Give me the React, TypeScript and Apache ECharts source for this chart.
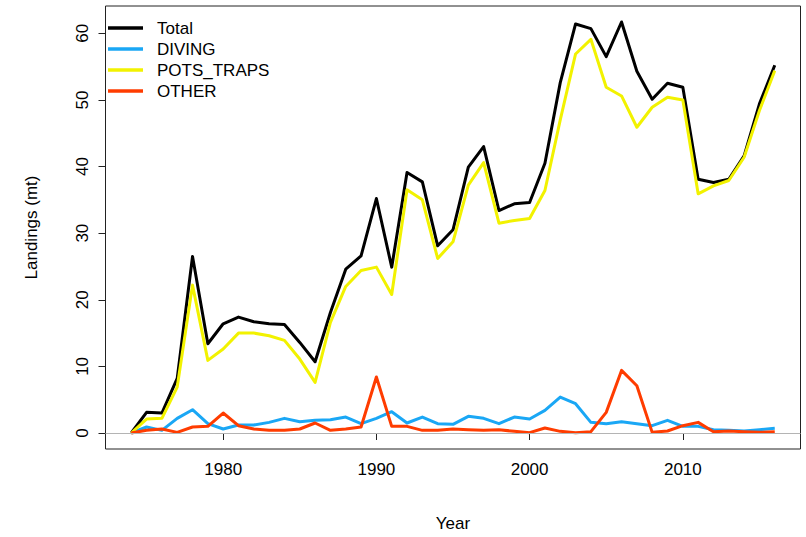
import React, { useEffect, useRef } from "react";
import * as echarts from "echarts";

// Annual landings (mt) by gear type, 1974–2016
const years: number[] = [];
for (let y = 1974; y <= 2016; y++) years.push(y);

const total = [
  0, 3.1, 3.0, 8.2, 26.5, 13.4, 16.4, 17.4, 16.7, 16.4, 16.3, 13.6, 10.7, 18.1, 24.6,
  26.6, 35.2, 24.9, 39.1, 37.7, 28.1, 30.5, 39.9, 43.0, 33.4, 34.4, 34.6, 40.5,
  52.6, 61.4, 60.7, 56.5, 61.7, 54.3, 50.1, 52.5, 51.9, 38.1, 37.6, 38.1, 41.6,
  49.4, 55.2,
];
const diving = [
  0, 0.9, 0.4, 2.2, 3.5, 1.4, 0.6, 1.2, 1.2, 1.6, 2.2, 1.7, 1.9, 2.0, 2.4,
  1.4, 2.2, 3.2, 1.5, 2.4, 1.4, 1.3, 2.5, 2.2, 1.4, 2.4, 2.1, 3.4,
  5.4, 4.4, 1.6, 1.4, 1.7, 1.4, 1.1, 1.9, 1.0, 1.0, 0.5, 0.4, 0.3,
  0.5, 0.7,
];
const potsTraps = [
  0, 2.1, 2.2, 6.9, 22.2, 10.9, 12.6, 15.0, 15.0, 14.6, 13.9, 11.1, 7.6, 16.6, 22.0,
  24.4, 24.9, 20.8, 36.5, 35.0, 26.2, 28.7, 37.2, 40.6, 31.5, 31.9, 32.2, 36.4,
  47.0, 56.9, 59.1, 51.9, 50.6, 45.9, 48.9, 50.4, 50.0, 35.9, 37.1, 37.9, 41.4,
  48.4, 54.4,
];
const other = [
  0, 0.4, 0.6, 0.1, 0.9, 1.0, 3.0, 1.1, 0.6, 0.4, 0.4, 0.6, 1.5, 0.4, 0.6,
  0.9, 8.4, 1.0, 1.0, 0.4, 0.4, 0.6, 0.5, 0.4, 0.5, 0.25, 0.05, 0.75,
  0.25, 0.05, 0.2, 3.1, 9.4, 7.1, 0.1, 0.3, 1.1, 1.6, 0.2, 0.3, 0.2,
  0.1, 0.2,
];

const seriesNames = ["Total", "DIVING", "POTS_TRAPS", "OTHER"];
const seriesColors = ["#000000", "#1aa7f5", "#f2f200", "#ff3c00"];
const seriesValues = [total, diving, potsTraps, other];

const xTicks = [1980, 1990, 2000, 2010];
const yTicks = [0, 10, 20, 30, 40, 50, 60];

const FONT = "'Liberation Sans', Arial, sans-serif";
const FS = 17;

export default function App() {
  const ref = useRef<HTMLDivElement>(null);

  useEffect(() => {
    if (!ref.current) return;
    const chart = echarts.init(ref.current, undefined, { renderer: "svg" });

    const lineSeries = seriesNames.map((name, i) => ({
      name,
      type: "line",
      z: 3,
      data: years.map((yr, k) => [yr, seriesValues[i][k]]),
      showSymbol: false,
      symbol: "none",
      lineStyle: { color: seriesColors[i], width: 3, join: "round" },
      itemStyle: { color: seriesColors[i] },
    }));

    // legend drawn as plain graphic elements in the top-left corner
    const legendGraphics: any[] = [];
    seriesNames.forEach((name, i) => {
      const cy = 28 + i * 21;
      legendGraphics.push({
        type: "line",
        shape: { x1: 108, y1: cy, x2: 143, y2: cy },
        style: { stroke: seriesColors[i], lineWidth: 3.5 },
        z: 10,
      });
      legendGraphics.push({
        type: "text",
        x: 157,
        y: cy,
        style: {
          text: name,
          fill: "#000",
          font: `${FS}px ${FONT}`,
          verticalAlign: "middle",
          align: "left",
        },
        z: 10,
      });
    });

    chart.setOption({
      animation: false,
      backgroundColor: "#ffffff",
      grid: {
        left: 105.5,
        right: 5.5,
        top: 6,
        bottom: 87,
        show: true,
        borderColor: "#222",
        borderWidth: 1,
        backgroundColor: "transparent",
      },
      xAxis: {
        type: "value",
        min: 1972.32,
        max: 2017.68,
        name: "Year",
        nameLocation: "middle",
        nameGap: 66,
        nameTextStyle: { fontFamily: FONT, fontSize: FS, color: "#000" },
        axisLine: { show: false },
        splitLine: { show: false },
        axisTick: {
          show: true,
          length: 7,
          inside: false,
          customValues: xTicks,
          lineStyle: { color: "#222", width: 1 },
        },
        axisLabel: {
          show: true,
          customValues: xTicks,
          margin: 12,
          fontFamily: FONT,
          fontSize: FS,
          color: "#000",
          formatter: (v: number) => String(v),
        },
      },
      yAxis: {
        type: "value",
        min: -2.4,
        max: 64.1,
        name: "Landings (mt)",
        nameLocation: "middle",
        nameGap: 66,
        nameRotate: 90,
        nameTextStyle: { fontFamily: FONT, fontSize: FS, color: "#000" },
        axisLine: { show: false },
        splitLine: { show: false },
        axisTick: {
          show: true,
          length: 7,
          customValues: yTicks,
          lineStyle: { color: "#222", width: 1 },
        },
        axisLabel: {
          show: true,
          customValues: yTicks,
          rotate: 90,
          margin: 15,
          fontFamily: FONT,
          fontSize: FS,
          color: "#000",
          formatter: (v: number) => String(v),
        },
      },
      series: [
        {
          name: "zero",
          type: "line",
          z: 1,
          data: [],
          silent: true,
          markLine: {
            silent: true,
            symbol: "none",
            label: { show: false },
            lineStyle: { color: "#b4b4b4", width: 1, type: "solid" },
            data: [{ yAxis: 0 }],
          },
        },
        ...lineSeries,
      ],
      graphic: legendGraphics,
    });

    return () => chart.dispose();
  }, []);

  return (
    <div
      ref={ref}
      style={{ position: "fixed", left: 0, top: 0, width: 806, height: 537 }}
    />
  );
}
